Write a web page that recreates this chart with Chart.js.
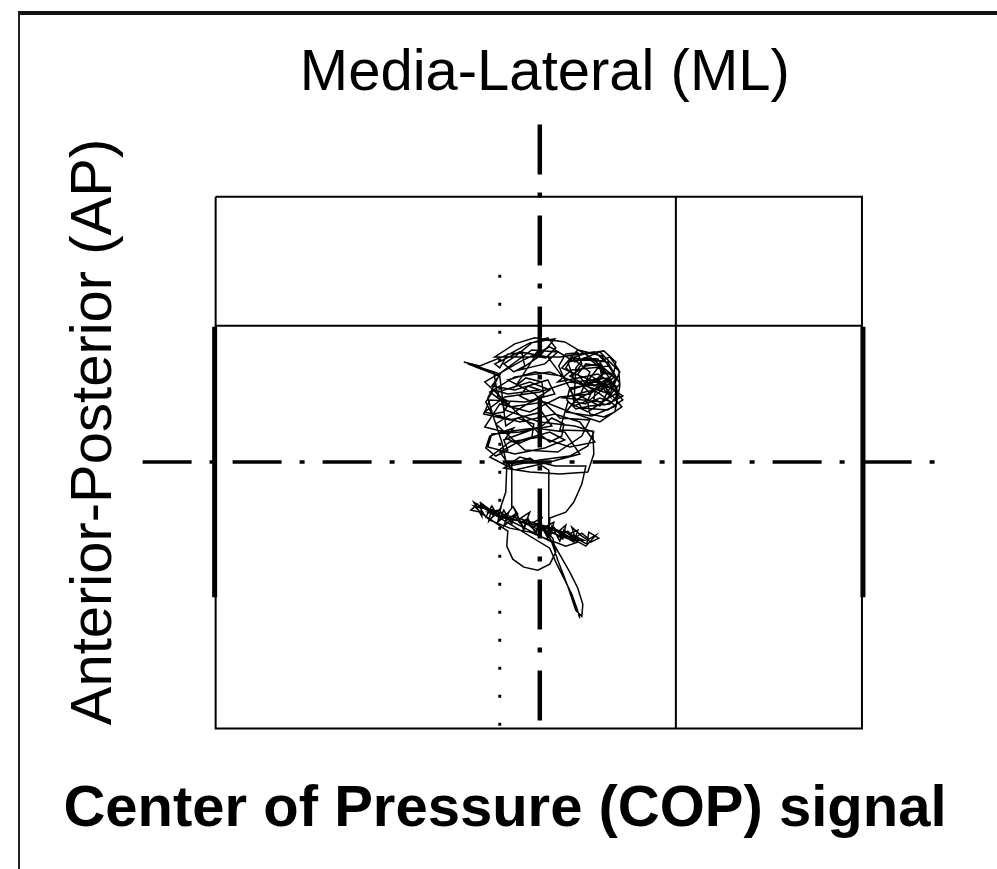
<!DOCTYPE html>
<html>
<head>
<meta charset="utf-8">
<script src="https://cdn.jsdelivr.net/npm/chart.js@4.4.1/dist/chart.umd.min.js"></script>
<style>
  html, body { margin: 0; padding: 0; background: #fff; }
  #wrap { position: relative; width: 997px; height: 869px; }
  #frame { position: absolute; left: 18px; top: 11px; right: 0; bottom: 0;
           border-top: 4px solid #111; border-left: 2px solid #222; pointer-events: none; }
</style>
</head>
<body>
<div id="wrap">
  <canvas id="copChart" width="997" height="869"></canvas>
  <div id="frame"></div>
</div>
<script>
// plate outline and guide lines (ML = x, AP = y)
var boxX = [-32.4, 32.2, 32.2, -32.4, -32.4];
var boxY = [26.5, 26.5, -26.6, -26.6, 26.5];
var midRowX = [-32.4, 32.2];
var midRowY = [13.6, 13.6];
var midColX = [13.6, 13.6];
var midColY = [26.5, -26.6];
var sideBarY = [13.5, -13.5];
var leftBarX = [-32.5, -32.5];
var rightBarX = [32.3, 32.3];
var mlAxisX = [0, 0];
var mlAxisY = [33.7, -26.6];
var apAxisX = [-39.7, 40.3];
var apAxisY = [0, 0];
var refLineX = [-4, -4];
var refLineY = [18.7, -26.6];

// COP trace
var copTrace = [
  // tail, going up
  [4.0,-15.6],[3.7,-14.6],[3.2,-13.2],[2.4,-11.6],[1.6,-10.0],[1.0,-8.6],
  // lower band
  [-6.6,-4.0],[-5.8,-5.4],[-5.9,-4.3],[-4.9,-5.0],[-5.1,-5.9],[-3.9,-4.6],[-4.2,-6.0],[-3.1,-5.0],
  [-3.6,-6.4],[-2.2,-5.2],[-2.7,-4.4],[-1.6,-6.6],[-1.0,-5.0],[-1.9,-5.6],[-0.4,-6.9],[0.2,-5.6],
  [-0.6,-6.0],[1.1,-7.3],[1.4,-6.0],[0.5,-6.5],[2.3,-7.7],[2.6,-6.3],[1.8,-7.0],[3.4,-8.0],
  [3.8,-6.8],[2.9,-7.2],[4.7,-8.2],[4.9,-7.0],[5.9,-7.6],[5.1,-8.0],
  [4.2,-7.4],[3.2,-6.5],[3.6,-7.8],[2.4,-6.8],[2.0,-7.9],[1.2,-6.4],[0.8,-7.6],[0.0,-6.1],
  [-0.4,-7.2],[-1.2,-5.6],[-1.6,-6.8],[-2.4,-5.0],[-2.8,-6.2],[-3.6,-4.8],[-4.0,-5.7],[-4.8,-4.4],
  [-5.4,-5.5],[-6.2,-4.2],[-6.9,-4.8],[-6.0,-5.0],
  // loop under the band
  [-3.2,-6.9],[-3.3,-8.4],[-2.7,-9.7],[-1.6,-10.5],[-0.2,-10.8],[1.0,-10.2],[1.6,-9.0],[1.3,-7.6],
  // second tail line
  [0.6,-7.0],[1.4,-8.2],[2.2,-9.6],[3.0,-11.0],[3.8,-12.6],[4.3,-14.2],[4.2,-15.4],[3.6,-14.8],
  [2.8,-12.4],[1.8,-9.8],[1.2,-8.0],
  // band again
  [-5.2,-4.7],[-4.6,-5.4],[-3.9,-5.0],[-3.3,-5.8],[-2.6,-5.3],[-2.0,-6.1],[-1.3,-5.7],[-0.7,-6.5],
  [0.0,-6.2],[0.7,-6.9],[1.4,-6.5],[2.1,-7.3],[2.8,-6.9],[3.5,-7.6],[4.2,-7.1],[4.9,-7.7],
  [5.6,-7.3],
  [4.6,-8.4],[3.0,-7.5],[1.8,-6.8],[0.6,-6.4],[-0.8,-6.0],[-2.2,-5.6],[-3.4,-5.3],[-4.6,-4.8],
  [-5.8,-4.6],[-6.6,-4.4],
  [-5.0,-5.8],[-3.0,-6.6],[-1.0,-7.0],[1.0,-7.8],[2.6,-8.4],[3.8,-8.0],[2.0,-7.0],[-0.2,-6.4],
  [-2.4,-5.8],[-4.4,-5.2],[-6.0,-4.0],
  [-4.8,-5.1],[-3.2,-5.5],[-1.8,-6.0],[-0.2,-6.7],[1.6,-7.2],[3.2,-7.8],[4.4,-7.8],[2.8,-7.1],
  [1.0,-6.6],[-0.6,-6.2],[-2.0,-5.9],[-3.6,-5.6],[-5.2,-5.0],
  // up to the upper cluster
  [-4.0,-4.8],[-3.4,-3.0],[-3.3,-0.3],
  [-3.8,2.0],[-4.6,4.4],[-5.2,6.4],[-4.0,8.8],[-7.6,10.0],[-6.0,9.6],[-3.0,10.8],[-1.0,11.9],
  [1.5,12.3],[0.0,10.6],[-2.0,9.2],[0.5,9.8],[1.8,11.0],[-0.8,11.2],[-3.8,9.0],[-4.8,7.6],
  [-2.5,7.2],[0.8,8.2],[1.5,6.8],[-1.5,6.0],[-5.0,6.2],[-5.6,4.8],[-3.0,4.2],[0.2,5.0],
  [1.2,3.6],[-2.0,3.0],[-4.8,2.8],[-5.2,1.5],[-2.5,0.8],[0.5,1.4],[2.5,2.2],[1.0,3.0],
  [-1.8,2.2],[-4.0,1.0],[-3.0,-0.4],[0.0,0.2],[3.0,0.6],[4.8,1.6],[5.4,3.0],[3.5,3.6],
  [0.0,4.0],[-3.5,5.2],[-4.2,7.0],[-1.0,8.0],[1.0,7.2],[-2.2,5.2],[-4.4,3.8],[-1.5,1.2],
  [1.8,1.0],[4.2,2.6],[5.0,4.2],[2.0,4.4],[-0.5,6.8],[-3.2,8.2],[-0.5,9.0],[2.2,8.6],
  [0.8,10.5],[-2.0,11.0],[-4.5,9.8],
  [-4.0,9.4],[-3.2,10.8],[-1.8,10.9],[-1.5,9.6],[-2.6,9.0],[-3.6,9.8],[-2.4,10.6],
  [-0.8,11.9],[0.8,12.4],[1.6,11.4],[0.6,10.4],[-0.6,10.6],[0.2,11.6],
  [-2.4,7.6],[-1.4,8.4],[0.2,8.0],[0.4,6.6],[-0.8,6.0],[-2.0,6.6],[-1.2,7.6],[0.0,7.2],
  [-3.2,6.8],[-4.6,7.2],[-5.4,6.0],[-4.8,4.8],[-3.6,5.0],[-3.0,6.0],[-4.2,6.6],
  [-4.6,9.0],[-7.2,9.8],[-6.2,9.4],[-4.0,8.6],
  [-3.4,3.6],[-2.2,4.4],[-0.6,3.8],[-0.8,2.4],[-2.2,1.8],[-3.4,2.4],[-2.6,3.4],
  [-5.0,2.6],[-5.4,1.4],[-4.4,0.6],[-3.2,1.2],[-3.6,2.2],
  [0.2,3.6],[1.2,4.4],[2.4,3.8],[2.2,2.6],[1.0,2.0],[0.0,2.8],
  [-5.5,8.0],[-2.0,10.0],[1.0,11.5],[3.5,10.0],[6.0,11.0],[8.0,9.0],[7.0,6.8],[4.0,7.8],
  [1.0,9.0],[-2.5,8.5],[-5.0,7.0],[-3.0,5.5],[0.5,6.0],[3.0,5.0],[6.0,4.0],[8.2,5.5],
  [6.5,7.5],[3.0,8.0],[0.0,7.0],[-3.5,6.5],[-5.5,5.0],[-2.0,4.0],[1.5,4.8],[4.0,4.0],
  [5.5,2.0],[3.0,1.5],[0.0,2.5],[-3.0,2.0],[-5.0,0.5],[-2.5,-0.8],[1.0,0.0],[4.0,0.8],
  [2.5,3.0],[-0.5,3.4],[-3.5,3.0],[-5.5,3.5],[-4.0,5.8],[-1.0,5.0],[2.0,6.5],[5.0,6.8],
  [7.5,8.5],[5.0,10.5],[2.5,12.0],[-0.5,12.4],[-2.5,11.8],[-4.5,10.5],
  // dense right part of the upper cluster
  [2.0,10.5],[5.5,11.0],[7.0,9.6],[3.2,9.2],[1.8,8.0],[5.8,8.8],[7.6,7.6],[4.5,7.0],
  [2.4,6.4],[6.2,6.0],[7.9,7.0],[6.8,8.4],[3.5,8.0],[2.8,10.0],[4.8,10.4],[6.6,9.0],
  [5.0,7.8],[3.0,7.2],[4.2,5.4],[6.8,5.2],[8.3,6.2],[7.2,7.4],[4.0,8.6],[2.2,9.4],
  [3.8,11.2],[6.2,10.6],[7.4,8.8],[5.6,7.2],[3.6,6.2],[2.6,5.0],[5.2,4.6],[7.6,5.6],
  [6.0,6.8],[3.0,8.6],[4.6,9.6],[6.0,9.8],[7.2,8.0],[5.0,6.2],[3.4,5.6],
  [3.6,9.4],[4.4,10.4],[5.8,10.3],[6.5,9.2],[5.9,8.0],[4.5,7.9],[3.8,8.8],[4.6,9.8],
  [6.0,9.6],[6.2,8.4],[5.0,8.1],
  [5.4,7.6],[6.6,8.2],[7.7,7.4],[7.6,6.2],[6.5,5.7],[5.4,6.3],[5.6,7.4],[6.9,7.8],
  [7.9,6.8],[7.0,5.8],
  [5.0,5.6],[3.6,5.3],[2.7,6.2],[3.0,7.4],[4.3,7.6],[5.1,6.8],[4.6,5.8],[3.4,6.0],[3.2,7.0],
  [2.4,8.4],[1.9,9.6],[2.6,10.8],[3.8,10.9],[4.2,9.8],[3.4,8.7],[2.6,9.4],[3.2,10.4],
  [4.5,10.8],[6.4,11.1],[7.6,10.0],[7.4,8.9],[6.3,8.8],[6.0,10.0],[7.0,10.5],[7.9,9.2],[8.0,7.6],
  [7.5,5.0],[6.4,4.5],[5.0,4.8],[4.8,5.9],[6.0,6.4],[7.2,6.0],[8.3,6.6],
  [5.4,8.4],[7.0,6.6],[6.4,7.8],[4.4,7.6],[5.8,9.4],[7.6,8.4],[6.0,5.6],[4.0,6.6],
  [5.0,9.0],[3.2,10.4],[6.8,10.0],[8.0,7.8],[6.6,6.2],[4.8,5.0],[2.8,6.0],
  // box-like part and the way down
  [2.0,3.2],[5.3,3.1],[5.4,0.8],[4.8,-1.0],[2.0,-1.2],[-1.0,-1.0],[-3.6,-0.6],[-2.0,0.5],
  [1.5,-0.4],[4.6,-0.4],[4.2,-2.2],[3.4,-4.0],[2.6,-5.0],[1.0,-5.6],[0.9,-7.6],[0.9,-3.0],
  [0.9,-0.8],[-1.0,0.4],[-2.8,-0.2],[-2.8,-4.6],[-3.6,-5.6]
];

function pts(xs, ys) {
  return xs.map(function (x, i) { return { x: x, y: ys[i] }; });
}

function lineSet(data, width, dash) {
  return {
    data: data,
    showLine: true,
    borderColor: '#000',
    borderWidth: width,
    borderDash: dash || [],
    borderCapStyle: 'butt',
    pointRadius: 0,
    fill: false,
    tension: 0
  };
}

var font = 'Liberation Sans, Arial, sans-serif';

var ctx = document.getElementById('copChart').getContext('2d');
var copChart = new Chart(ctx, {
    type: 'scatter',
    data: {
        datasets: [
            lineSet(pts(boxX, boxY), 2),
            lineSet(pts(midRowX, midRowY), 2),
            lineSet(pts(midColX, midColY), 2),
            lineSet(pts(leftBarX, sideBarY), 5),
            lineSet(pts(rightBarX, sideBarY), 5),
            lineSet(pts(mlAxisX, mlAxisY), 4.5, [50, 18, 5, 18]),
            lineSet(pts(apAxisX, apAxisY), 3.5, [49, 18, 5, 18]),
            lineSet(pts(refLineX, refLineY), 3, [3, 25]),
            lineSet(copTrace.map(function (p) { return { x: p[0], y: p[1] }; }), 1.5)
        ]
    },
    options: {
        responsive: false,
        animation: false,
        layout: {
            padding: { left: 60, right: 47, top: 20, bottom: 0 }
        },
        plugins: {
            legend: { display: false },
            tooltip: { enabled: false },
            title: {
                display: true,
                position: 'bottom',
                text: 'Center of Pressure (COP) signal',
                color: '#000',
                font: { family: font, size: 58, weight: 'bold' },
                padding: { top: 33, bottom: 24 }
            }
        },
        scales: {
            x: {
                type: 'linear',
                position: 'top',
                min: -40,
                max: 41,
                grid: { display: false, drawTicks: false },
                border: { display: false },
                ticks: { display: false },
                title: {
                    display: true,
                    text: 'Media-Lateral (ML)',
                    color: '#000',
                    font: { family: font, size: 58 },
                    padding: { top: 19, bottom: 13 }
                }
            },
            y: {
                type: 'linear',
                min: -28,
                max: 34,
                grid: { display: false, drawTicks: false },
                border: { display: false },
                ticks: { display: false },
                title: {
                    display: true,
                    text: 'Anterior-Posterior (AP)',
                    color: '#000',
                    font: { family: font, size: 58 },
                    padding: { top: 0, bottom: 10 }
                }
            }
        }
    }
});
</script>
</body>
</html>
